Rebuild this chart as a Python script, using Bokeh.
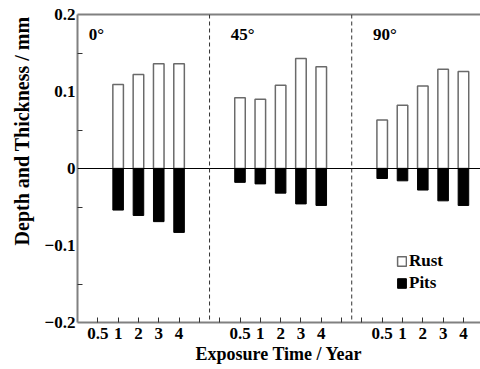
from bokeh.plotting import figure
from bokeh.models import (FixedTicker, Span, Label, LinearAxis, Legend, LegendItem,
                          ColumnDataSource, Range1d, Title)
from bokeh.embed import file_html
from bokeh.resources import INLINE

# ---- data ----
angles = ["0°", "45°", "90°"]
years = ["0.5", "1", "2", "3", "4"]
rust_0 = [None, 0.109, 0.122, 0.136, 0.136]
rust_45 = [0.092, 0.090, 0.108, 0.143, 0.132]
rust_90 = [0.063, 0.082, 0.107, 0.129, 0.126]
pits_0 = [None, -0.054, -0.061, -0.069, -0.083]
pits_45 = [-0.018, -0.020, -0.032, -0.046, -0.048]
pits_90 = [-0.013, -0.016, -0.028, -0.042, -0.048]
y_ticks = [-0.2, -0.1, 0, 0.1, 0.2]
y_tick_labels = ["\u22120.2", "\u22120.1", "0", "0.1", "0.2"]

rust_all = [rust_0, rust_45, rust_90]
pits_all = [pits_0, pits_45, pits_90]

FONT = "Liberation Serif"
GROUP_STEP = len(years) + 2

xs_r, tops_r, xs_p, tops_p = [], [], [], []
for g in range(len(angles)):
    for i in range(len(years)):
        x = g * GROUP_STEP + i
        if rust_all[g][i] is not None:
            xs_r.append(x); tops_r.append(rust_all[g][i])
        if pits_all[g][i] is not None:
            xs_p.append(x); tops_p.append(pits_all[g][i])

src_r = ColumnDataSource(dict(x=xs_r, top=tops_r))
src_p = ColumnDataSource(dict(x=xs_p, top=tops_p))

n_pos = (len(angles) - 1) * GROUP_STEP + len(years)

p = figure(width=480, height=369, x_range=Range1d(-1, 18.84), y_range=Range1d(-0.2, 0.2),
           output_backend="svg", toolbar_location=None,
           min_border_left=74, min_border_right=0, min_border_top=14, min_border_bottom=47)
p.outline_line_color = None
p.xgrid.visible = False
p.ygrid.visible = False

r_rust = p.vbar(x="x", top="top", bottom=0, width=0.52, source=src_r,
                fill_color="white", line_color="#6a6a6a", line_width=1.5)
r_pits = p.vbar(x="x", top="top", bottom=0, width=0.52, source=src_p,
                fill_color="black", line_color="black", line_width=1)

# zero line
p.add_layout(Span(location=0, dimension="width", line_color="black", line_width=1))
# group dividers
for g in range(1, len(angles)):
    p.add_layout(Span(location=g * GROUP_STEP - 1.5, dimension="height",
                      line_color="#333333", line_width=1, line_dash="4 3"))

# x axis
xa = p.xaxis[0]
xa.ticker = FixedTicker(ticks=list(range(n_pos)))
overrides = {}
for t in range(n_pos):
    g, i = divmod(t, GROUP_STEP)
    overrides[t] = years[i] if i < len(years) else ""
xa.major_label_overrides = overrides
xa.major_label_text_font = FONT
xa.major_label_text_font_style = "bold"
xa.major_label_text_font_size = "17px"
xa.major_label_text_color = "black"
xa.major_label_standoff = 5
xa.major_tick_in = 5
xa.major_tick_out = 0
xa.major_tick_line_color = "#333333"
xa.minor_tick_line_color = None
xa.axis_line_color = "#808080"
xa.axis_line_width = 2
xa.axis_label = "Exposure Time / Year"
xa.axis_label_text_font = FONT
xa.axis_label_text_font_style = "bold"
xa.axis_label_text_font_size = "18px"
xa.axis_label_text_color = "black"
xa.axis_label_standoff = 2

# y axis
ya = p.yaxis[0]
ya.ticker = FixedTicker(ticks=y_ticks, minor_ticks=[-0.15, -0.05, 0.05, 0.15])
ya.major_label_overrides = {t: l for t, l in zip(y_ticks, y_tick_labels)}
ya.major_label_text_font = FONT
ya.major_label_text_font_style = "bold"
ya.major_label_text_font_size = "17px"
ya.major_label_text_color = "black"
ya.major_label_standoff = 2
ya.major_tick_in = 0
ya.major_tick_out = 0
ya.minor_tick_in = 5
ya.minor_tick_out = 0
ya.minor_tick_line_color = "#333333"
ya.axis_line_color = "#808080"
ya.axis_line_width = 2

# y title as a left-side title, pushed toward the top
ytitle = Title(text="Depth and Thickness / mm", align="right", offset=2,
               text_font=FONT, text_font_style="bold", text_font_size="20px",
               text_color="black")
if hasattr(ytitle, "standoff"):
    ytitle.standoff = 17
p.add_layout(ytitle, "left")

# top frame line (axis with no ticks)
top_ax = LinearAxis(ticker=FixedTicker(ticks=[]), major_tick_line_color=None,
                    minor_tick_line_color=None, major_label_text_font_size="0px",
                    axis_line_color="#808080", axis_line_width=2)
p.add_layout(top_ax, "above")

# group labels
for g, a in enumerate(angles):
    p.add_layout(Label(x=g * GROUP_STEP - 0.45, y=0.187, text=a,
                       text_align="left", text_baseline="top",
                       text_font=FONT, text_font_style="bold", text_font_size="17px",
                       text_color="black"))

legend = Legend(items=[LegendItem(label="Rust", renderers=[r_rust]),
                       LegendItem(label="Pits", renderers=[r_pits])],
                location=(319, 29), padding=0, margin=0, spacing=2,
                glyph_width=11, glyph_height=12, label_height=12, label_standoff=2,
                border_line_color=None, background_fill_alpha=0,
                label_text_font=FONT, label_text_font_style="bold",
                label_text_font_size="17px", label_text_color="black")
p.add_layout(legend)

open("out.html", "w").write(file_html(p, INLINE))
